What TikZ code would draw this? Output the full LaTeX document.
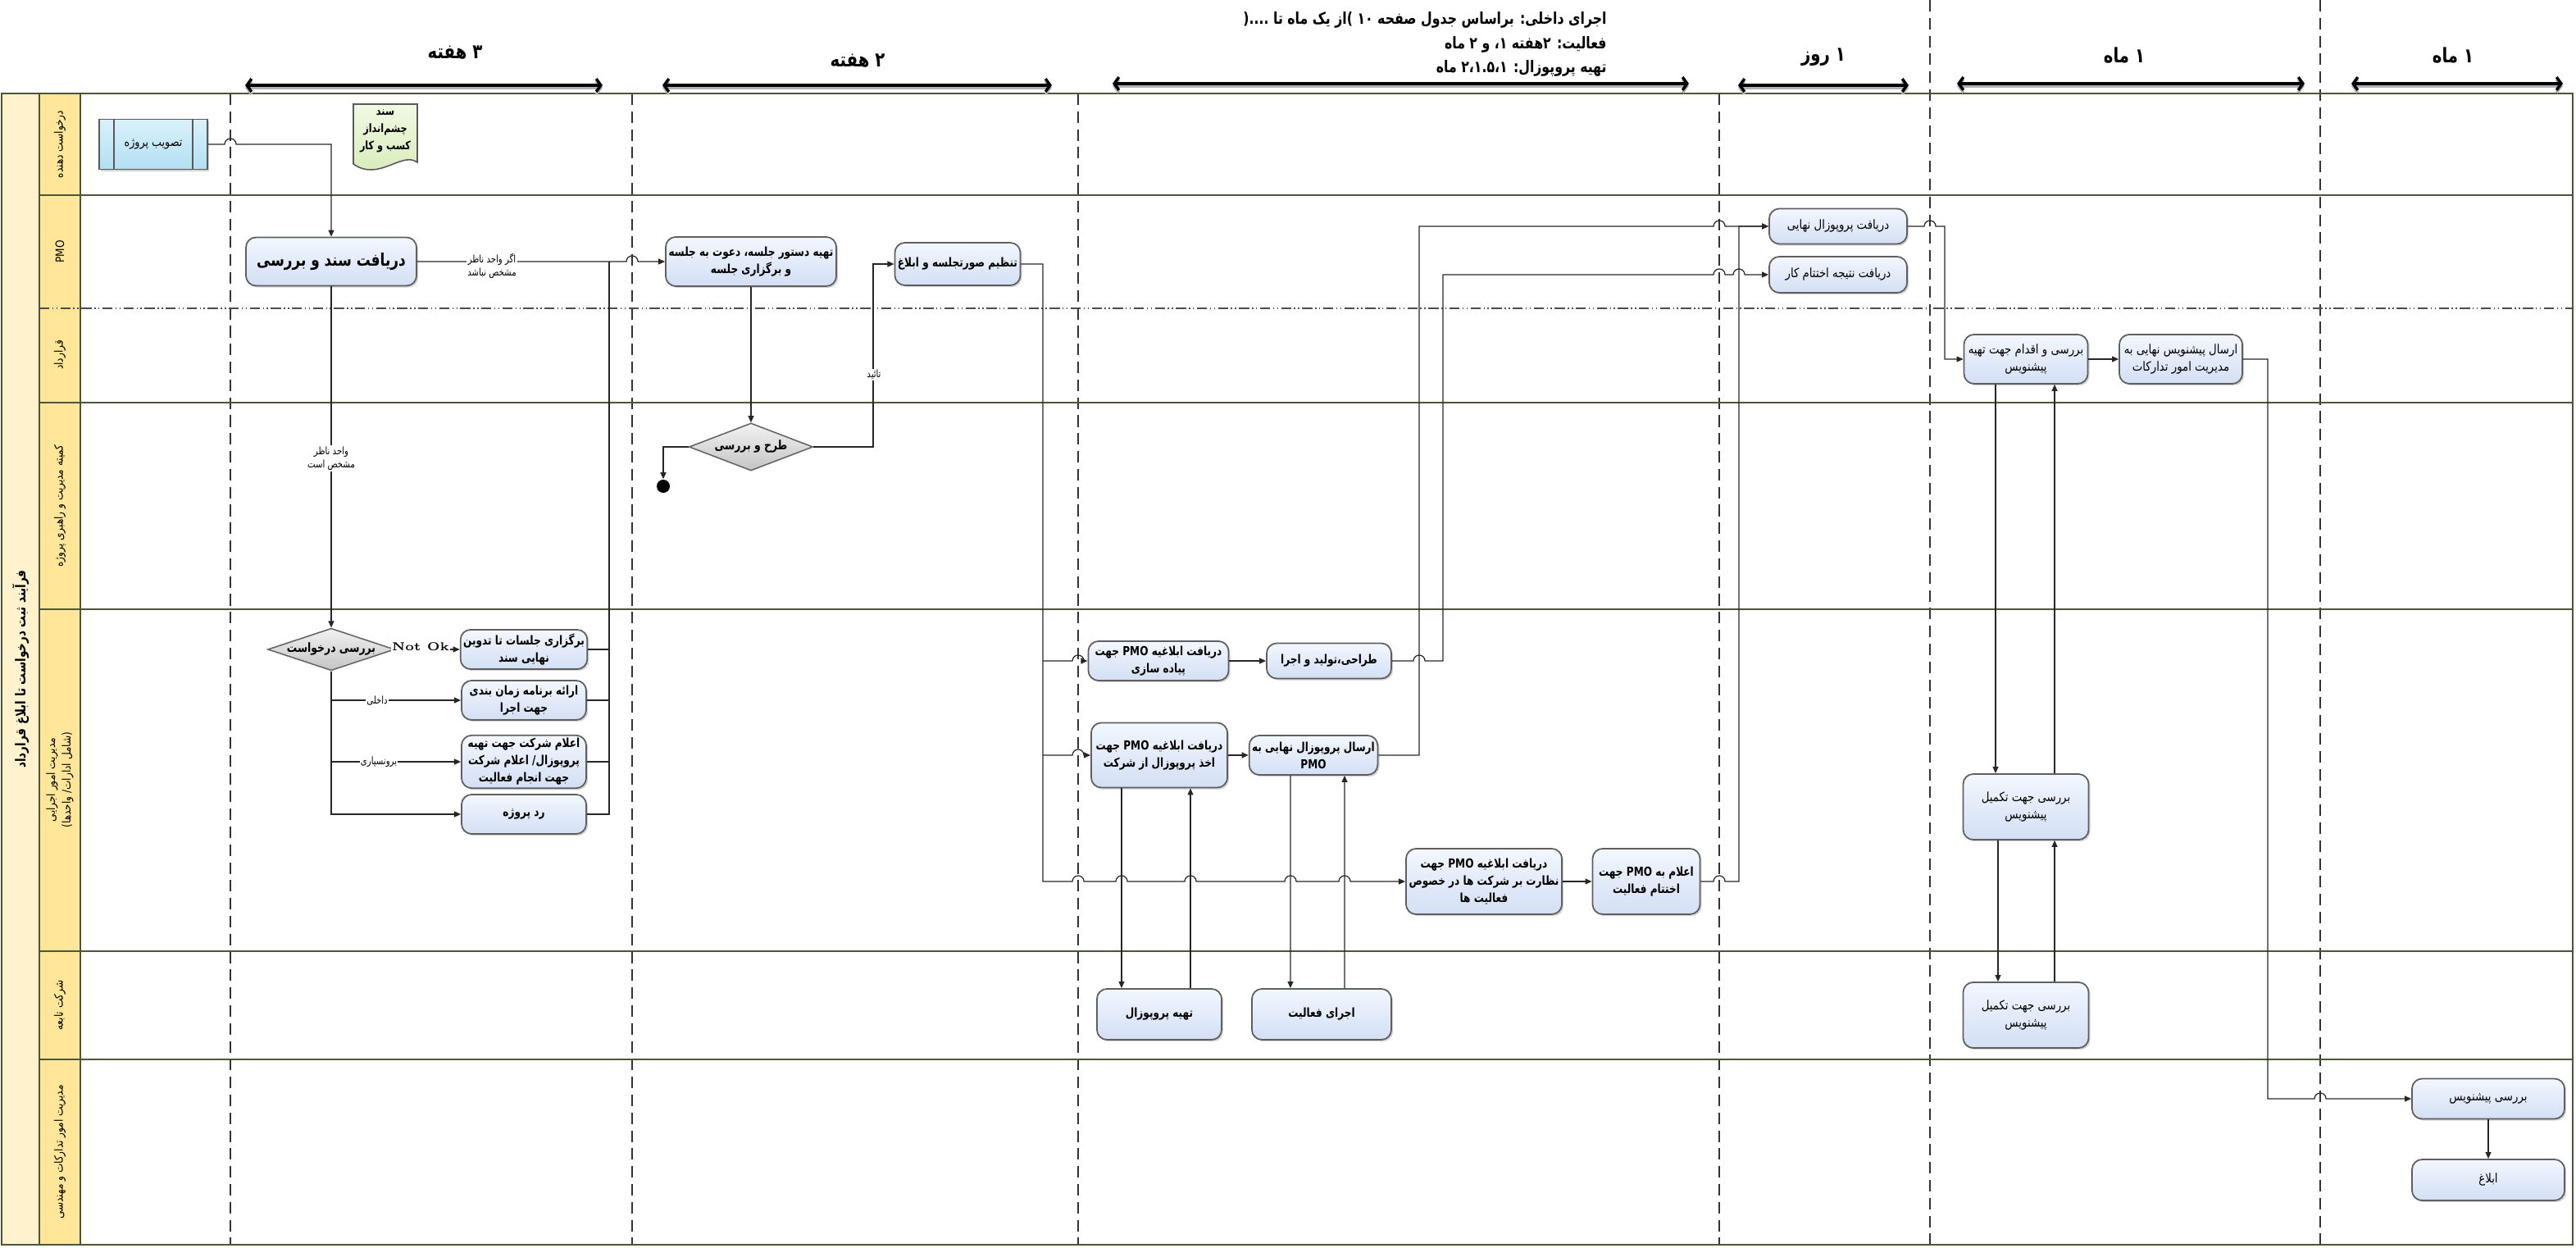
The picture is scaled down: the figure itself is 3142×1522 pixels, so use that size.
\documentclass[tikz,border=0pt]{standalone}
\usepackage{fontspec}
\usetikzlibrary{arrows.meta,shapes.geometric,shadows}
\TeXXeTstate=1
\newfontfamily\fa[Script=Arabic, FakeStretch=0.8]{DejaVu Sans}
\newfontfamily\far[Script=Arabic, FakeStretch=0.86]{DejaVu Sans}
\newcommand{\rtl}[1]{\beginR#1\endR}

\definecolor{titlecol}{HTML}{FFF2CC}
\definecolor{namecol}{HTML}{FFE699}
\definecolor{laneline}{HTML}{4B5537}
\definecolor{tasktop}{HTML}{F3F7FE}
\definecolor{taskbot}{HTML}{D3DFF4}
\definecolor{taskline}{HTML}{5F5F5F}
\definecolor{subtop}{HTML}{D9F2FC}
\definecolor{subbot}{HTML}{B3DFF2}
\definecolor{doctop}{HTML}{F1F9E4}
\definecolor{docbot}{HTML}{D5EBB5}
\definecolor{gatetop}{HTML}{F2F2F2}
\definecolor{gatebot}{HTML}{C4C4C4}

\tikzset{
  task/.style={draw=taskline, line width=0.5pt, rounded corners=3.5pt,
    top color=tasktop, bottom color=taskbot, align=center, inner sep=1pt,
    font=\far\fontsize{4.4}{6}\selectfont,
    drop shadow={shadow xshift=0.6pt, shadow yshift=-0.6pt, opacity=0.35}},
  taskb/.style={task, font=\fa\bfseries\fontsize{4.3}{6}\selectfont},
  gate/.style={diamond, aspect=3, draw=gray!80!black, line width=0.45pt, top color=gatetop,
    bottom color=gatebot, inner sep=0pt, font=\fa\bfseries\fontsize{4.4}{6}\selectfont},
  flow/.style={draw=black!85, line width=0.35pt, -{Triangle[length=2.3pt,width=2pt]}},
  link/.style={draw=black!85, line width=0.35pt},
  tag/.style={fill=white, inner sep=0.4pt, align=center, font=\fa\fontsize{3.6}{4.6}\selectfont},
  lane/.style={draw=laneline, line width=0.7pt},
  subline/.style={draw=gray!60!black, line width=0.4pt,
    dash pattern=on 3.5pt off 1pt on 0.4pt off 1pt on 0.4pt off 1pt},
  phase/.style={draw=black!80, line width=0.55pt, dash pattern=on 4pt off 2.2pt},
  lanename/.style={rotate=90, align=center, font=\far\fontsize{4}{5.4}\selectfont},
  span/.style={line width=1pt, {Straight Barb[length=1.6pt,width=4.5pt]}-{Straight Barb[length=1.6pt,width=4.5pt]}},
}

\begin{document}
\begin{tikzpicture}[x=0.01cm, y=-0.01cm]
\useasboundingbox (0,0) rectangle (3142,1522);

% columns
\fill[titlecol] (2,114) rectangle (48,1518);
\fill[namecol] (48,114) rectangle (98,1518);

% phases
\foreach \xx in {281,771,1315,2097} \draw[phase] (\xx,114) -- (\xx,1518);
\foreach \xx in {2354,2830} \draw[phase] (\xx,0) -- (\xx,1518);

% lanes
\draw[subline] (48,376) -- (3138,376);
\foreach \yy in {238,491,743,1160,1292} \draw[lane] (48,\yy) -- (3138,\yy);
\draw[lane] (2,114) rectangle (3138,1518);
\draw[lane] (48,114) -- (48,1518);
\draw[lane] (98,114) -- (98,1518);

% lane names
\node[rotate=90, font=\fa\bfseries\fontsize{4.8}{6}\selectfont] (title) at (25,816) {\rtl{فرآیند ثبت درخواست تا ابلاغ قرارداد}};
\node[lanename] (ln1) at (73,176) {\rtl{درخواست دهنده}};
\node[lanename] (ln2) at (73,307) {PMO};
\node[lanename] (ln3) at (73,433) {\rtl{قرارداد}};
\node[lanename] (ln4) at (73,617) {\rtl{کمیته مدیریت و راهبری پروژه}};
\node[lanename] (ln5) at (73,951) {\rtl{مدیریت امور اجرایی}\\\rtl{(شامل ادارات/ واحدها)}};
\node[lanename] (ln6) at (73,1226) {\rtl{شرکت تابعه}};
\node[lanename] (ln7) at (73,1405) {\rtl{مدیریت امور تدارکات و مهندسی}};

% time spans
\foreach \xa/\xb/\yy/\lx/\ly/\txt [count=\i] in {299/735/104/555/64/۳ هفته, 808/1283/104/1046/74/۲ هفته, 2120/2328/104/2224/70/۱ روز, 2387/2811/102/2591/68/۱ ماه, 2868/3126/102/2992/68/۱ ماه}{
  \draw[span, gray!60] (\xa,\yy+3) -- (\xb,\yy+3);
  \draw[span] (\xa,\yy) -- (\xb,\yy);
  \node[font=\fa\bfseries\fontsize{7}{9}\selectfont] (span\i) at (\lx,\ly) {\rtl{\txt}};
}
\draw[span, gray!60] (1357,105) -- (2060,105);
\draw[span] (1357,102) -- (2060,102);
\node[anchor=east, align=right, font=\fa\bfseries\fontsize{5.6}{8.5}\selectfont] (notes) at (1972,54)
  {\rtl{اجرای داخلی: براساس جدول صفحه ۱۰ )از یک ماه تا ....(}\\\rtl{فعالیت: ۲هفته ۱، و ۲ ماه}\\\rtl{تهیه پروپوزال: ۲،۱.۵،۱ ماه}};

% requester lane
\node[draw=gray!70!black, line width=0.45pt, top color=subtop, bottom color=subbot,
  minimum width=13.2mm, minimum height=6.1mm, font=\far\fontsize{4.2}{5}\selectfont,
  drop shadow={shadow xshift=0.6pt, shadow yshift=-0.6pt, opacity=0.35}] (tasvib) at (187,176) {\rtl{تصویب پروژه}};
\draw[gray!70!black, line width=0.45pt] ([xshift=1.9mm]tasvib.north west) -- ([xshift=1.9mm]tasvib.south west);
\draw[gray!70!black, line width=0.45pt] ([xshift=-1.9mm]tasvib.north east) -- ([xshift=-1.9mm]tasvib.south east);
\draw[draw=gray!70!black, line width=0.45pt, top color=doctop, bottom color=docbot]
  (431,127) -- (509,127) -- (509,198) .. controls (490,184) and (462,222) .. (431,200) -- cycle;
\node[align=center, font=\fa\bfseries\fontsize{4}{6}\selectfont] (sanad) at (470,160) {\rtl{سند}\\\rtl{چشم‌انداز}\\\rtl{کسب و کار}};

% PMO lane
\node[taskb, minimum width=20.8mm, minimum height=5.9mm, font=\fa\bfseries\fontsize{6}{7}\selectfont] (daryaft) at (404,319) {\rtl{دریافت سند و بررسی}};
\node[taskb, minimum width=20.8mm, minimum height=6.0mm] (tahie) at (916,319) {\rtl{تهیه دستور جلسه، دعوت به جلسه}\\\rtl{و برگزاری جلسه}};
\node[taskb, minimum width=15.2mm, minimum height=5.2mm] (tanzim) at (1168,322) {\rtl{تنظیم صورتجلسه و ابلاغ}};
\node[task, minimum width=16.8mm, minimum height=4.3mm] (daryaftprop) at (2242,276) {\rtl{دریافت پروپوزال  نهایی}};
\node[task, minimum width=16.8mm, minimum height=4.4mm] (daryaftnatije) at (2242,335) {\rtl{دریافت نتیجه اختتام کار}};

% contract lane
\node[task, minimum width=15.1mm, minimum height=6.0mm] (barresieghdam) at (2471,438) {\rtl{بررسی و اقدام جهت تهیه}\\\rtl{پیشنویس}};
\node[task, minimum width=15.0mm, minimum height=6.0mm] (ersalpish) at (2660,438) {\rtl{ارسال پیشنویس نهایی به}\\\rtl{مدیریت امور تدارکات}};

% steering committee lane
\node[gate, aspect=2.6, minimum width=15.1mm, minimum height=5.8mm] (tarh) at (916,545) {\rtl{طرح و بررسی}};
\node[circle, fill=black, minimum size=1.6mm, inner sep=0pt] (stop) at (809,593) {};

% executive lane
\node[gate, minimum width=15.2mm, minimum height=4.8mm] (barresi) at (404,792) {\rtl{بررسی درخواست}};
\node[taskb, minimum width=15.2mm, minimum height=4.8mm] (bargozari) at (639,792) {\rtl{برگزاری جلسات تا تدوین}\\\rtl{نهایی سند}};
\node[taskb, minimum width=15.2mm, minimum height=4.8mm] (eraee) at (639,854) {\rtl{ارائه برنامه زمان بندی}\\\rtl{جهت اجرا}};
\node[taskb, minimum width=15.2mm, minimum height=6.4mm] (elam) at (639,929) {\rtl{اعلام شرکت جهت تهیه}\\\rtl{پروپوزال/ اعلام شرکت}\\\rtl{جهت انجام فعالیت}};
\node[taskb, minimum width=15.2mm, minimum height=4.8mm] (rad) at (639,993) {\rtl{رد پروژه}};
\node[taskb, minimum width=17.1mm, minimum height=4.8mm] (ablagh1) at (1413,806) {\rtl{دریافت ابلاغیه PMO جهت}\\\rtl{پیاده سازی}};
\node[taskb, minimum width=15.2mm, minimum height=4.3mm] (tarrahi) at (1621,806) {\rtl{طراحی،تولید و اجرا}};
\node[taskb, minimum width=16.6mm, minimum height=7.9mm] (ablagh2) at (1414,921) {\rtl{دریافت ابلاغیه PMO جهت}\\\rtl{اخذ پروپوزال از شرکت}};
\node[taskb, minimum width=15.1mm, minimum height=4.8mm] (ersal) at (1602,921) {\rtl{ارسال پروپوزال نهایی به}\\PMO};
\node[taskb, minimum width=19.0mm, minimum height=8.0mm] (nezarat) at (1810,1075) {\rtl{دریافت ابلاغیه PMO جهت}\\\rtl{نظارت بر شرکت ها در خصوص}\\\rtl{فعالیت ها}};
\node[taskb, minimum width=13.1mm, minimum height=8.0mm] (elampmo) at (2008,1075) {\rtl{اعلام به PMO جهت}\\\rtl{اختتام فعالیت}};
\node[task, minimum width=15.3mm, minimum height=8.0mm] (takmil1) at (2471,984) {\rtl{بررسی جهت تکمیل}\\\rtl{پیشنویس}};

% subsidiary lane
\node[taskb, minimum width=15.2mm, minimum height=6.2mm] (tahieprop) at (1414,1237) {\rtl{تهیه پروپوزال}};
\node[taskb, minimum width=17.0mm, minimum height=6.2mm] (ejra) at (1612,1237) {\rtl{اجرای فعالیت}};
\node[task, minimum width=15.3mm, minimum height=8.0mm] (takmil2) at (2471,1238) {\rtl{بررسی جهت تکمیل}\\\rtl{پیشنویس}};

% procurement lane
\node[task, minimum width=18.6mm, minimum height=4.9mm] (barresipish) at (3035,1340) {\rtl{بررسی پیشنویس}};
\node[task, minimum width=18.6mm, minimum height=5.0mm] (eblagh) at (3035,1439) {\rtl{ابلاغ}};

% flows
\draw[flow] (tasvib.east) -- (274,176) arc(180:0:2pt) -- (404,176) -- (daryaft.north);
\draw[flow] (daryaft.east) -- (764,319) arc(180:0:2pt) -- (tahie.west);
\node[tag] (t1) at (600,324) {\rtl{اگر واحد ناظر}\\\rtl{مشخص نباشد}};
\draw[flow] (daryaft.south) -- (barresi.north);
\node[tag] (t2) at (404,559) {\rtl{واحد ناظر}\\\rtl{مشخص است}};

\draw[link] (bargozari.east) -- (743,792);
\draw[link] (eraee.east) -- (743,854);
\draw[link] (elam.east) -- (743,929);
\draw[link, line width=0.5pt] (rad.east) -- (743,993) -- (743,319);

\draw[flow] (barresi.east) -- (bargozari.west);
\node[fill=white, inner sep=0.4pt, font=\bfseries\fontsize{4}{5}\selectfont] (t3) at (513,789) {Not Ok};
\draw[flow] (barresi.south) -- (404,993) -- (rad.west);
\draw[flow] (404,854) -- (eraee.west);
\node[tag] (t4) at (460,855) {\rtl{داخلی}};
\draw[flow] (404,929) -- (elam.west);
\node[tag] (t5) at (462,929) {\rtl{برونسپاری}};

\draw[flow] (tahie.south) -- (tarh.north);
\draw[flow] (tarh.west) -- (809,545) -- (stop.north);
\draw[flow] (tarh.east) -- (1065,545) -- (1065,322) -- (tanzim.west);
\node[tag] (t6) at (1066,457) {\rtl{تائید}};

\draw[flow] (tanzim.east) -- (1272,322) -- (1272,1075) -- (1308,1075) arc(180:0:2pt)
  -- (1361,1075) arc(180:0:2pt) -- (1445,1075) arc(180:0:2pt)
  -- (1567,1075) arc(180:0:2pt) -- (1633,1075) arc(180:0:2pt) -- (nezarat.west);
\draw[flow] (1272,806) -- (1308,806) arc(180:0:2pt) -- (ablagh1.west);
\draw[flow] (1272,921) -- (1308,921) arc(180:0:2pt) -- (ablagh2.west);
\draw[flow] (ablagh1.east) -- (tarrahi.west);
\draw[flow] (tarrahi.east) -- (1724,806) arc(180:0:2pt) -- (1760,806) -- (1760,335)
  -- (2090,335) arc(180:0:2pt) -- (2114,335) arc(180:0:2pt) -- (daryaftnatije.west);
\draw[flow] (ablagh2.east) -- (ersal.west);
\draw[flow] (ersal.east) -- (1731,921) -- (1731,276) -- (2090,276) arc(180:0:2pt) -- (daryaftprop.west);
\draw[flow] ([xshift=-4.6mm]ablagh2.south) -- ([xshift=-4.6mm]tahieprop.north);
\draw[flow] ([xshift=3.8mm]tahieprop.north) -- ([xshift=3.8mm]ablagh2.south);
\draw[flow] ([xshift=-2.8mm]ersal.south) -- ([xshift=-3.8mm]ejra.north);
\draw[flow] ([xshift=2.8mm]ejra.north) -- ([xshift=3.8mm]ersal.south);
\draw[flow] (nezarat.east) -- (elampmo.west);
\draw[flow] (elampmo.east) -- (2090,1075) arc(180:0:2pt) -- (2121,1075) -- (2121,276) -- (daryaftprop.west);

\draw[flow] (daryaftprop.east) -- (2347,276) arc(180:0:2pt) -- (2372,276) -- (2372,438) -- (barresieghdam.west);
\draw[flow] (barresieghdam.east) -- (ersalpish.west);
\draw[flow] ([xshift=-3.7mm]barresieghdam.south) -- ([xshift=-3.7mm]takmil1.north);
\draw[flow] ([xshift=3.5mm]takmil1.north) -- ([xshift=3.5mm]barresieghdam.south);
\draw[flow] ([xshift=-3.4mm]takmil1.south) -- ([xshift=-3.4mm]takmil2.north);
\draw[flow] ([xshift=3.5mm]takmil2.north) -- ([xshift=3.5mm]takmil1.south);
\draw[flow] (ersalpish.east) -- (2766,438) -- (2766,1340) -- (2823,1340) arc(180:0:2pt) -- (barresipish.west);
\draw[flow] (barresipish.south) -- (eblagh.north);
\end{tikzpicture}
\end{document}
